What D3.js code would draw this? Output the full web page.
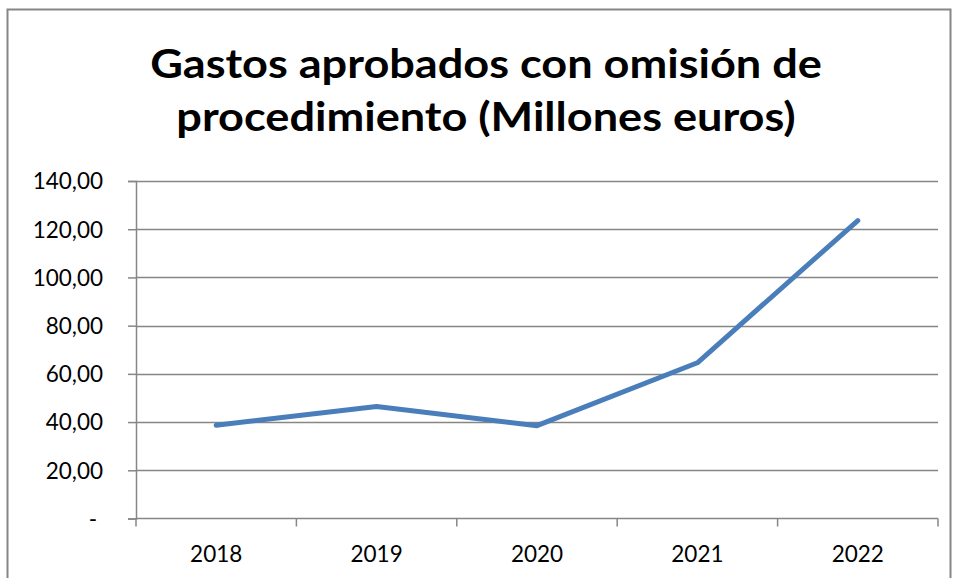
<!DOCTYPE html>
<html>
<head>
<meta charset="utf-8">
<script src="https://cdn.jsdelivr.net/npm/d3@7"></script>
<style>
  html, body { margin: 0; padding: 0; background: #fff; }
  svg { display: block; }
  text { font-family: Lato, "Open Sans", sans-serif; fill: #000; }
</style>
</head>
<body>
<div id="chart"></div>
<script>
// chart data
const years = ['2018', '2019', '2020', '2021', '2022'];
const gastos = [38.7, 46.5, 38.5, 64.6, 123.6];
const yTicks = [0, 20, 40, 60, 80, 100, 120, 140];
const titleLines = ['Gastos aprobados con omisión de', 'procedimiento (Millones euros)'];

(function() {
  const width = 956, height = 578;
  const plot = { left: 136, right: 938, top: 181, bottom: 518.5 };

  const svg = d3.select('#chart').append('svg')
    .attr('width', width)
    .attr('height', height);

  // outer frame of the chart object
  svg.append('rect')
    .attr('x', 7.5).attr('y', 9.5)
    .attr('width', 943).attr('height', 620)
    .attr('fill', 'none')
    .attr('stroke', '#868686')
    .attr('stroke-width', 2);

  // title, two centred lines; Lato is wider than the original face,
  // so squeeze it horizontally to the reference width
  const titleSize = 41;
  const title = svg.append('g');
  const tLines = title.selectAll('text')
    .data(titleLines)
    .join('text')
    .attr('x', 0)
    .attr('y', (d, i) => [78, 131][i])
    .attr('text-anchor', 'middle')
    .attr('font-weight', 'bold')
    .attr('font-size', titleSize)
    .text(d => d);
  const w0 = tLines.node().getComputedTextLength();
  title.attr('transform', `translate(486,0) scale(${672 / w0},1)`);

  const x = d3.scaleBand()
    .domain(years)
    .range([plot.left, plot.right]);

  const y = d3.scaleLinear()
    .domain([0, 140])
    .range([plot.bottom, plot.top]);

  // horizontal gridlines
  svg.append('g')
    .selectAll('line')
    .data(yTicks.slice(1))
    .join('line')
    .attr('x1', plot.left).attr('x2', plot.right)
    .attr('y1', d => Math.round(y(d)) + 0.5)
    .attr('y2', d => Math.round(y(d)) + 0.5)
    .attr('stroke', '#868686')
    .attr('stroke-width', 1.5);

  // y axis
  const fmt = d => d === 0 ? '-' : d3.format('.2f')(d).replace('.', ',');
  const yAxis = svg.append('g')
    .attr('transform', `translate(${plot.left},0)`)
    .call(d3.axisLeft(y).tickValues(yTicks).tickFormat(fmt).tickSize(8).tickPadding(25));
  yAxis.select('.domain').attr('stroke', '#868686').attr('stroke-width', 1.5);
  yAxis.selectAll('.tick line').attr('stroke', '#868686').attr('stroke-width', 1.5);
  yAxis.selectAll('.tick text')
    .attr('font-size', 22.5)
    .attr('font-family', 'Lato, sans-serif')
    .attr('fill', '#000')
    .attr('dy', '0.35em');
  yAxis.selectAll('.tick').filter(d => d === 0).select('text').attr('dx', -6);

  // x axis: ticks between categories
  const xAxis = svg.append('g')
    .attr('transform', `translate(0,${plot.bottom})`);
  xAxis.append('line')
    .attr('x1', plot.left).attr('x2', plot.right)
    .attr('y1', 0).attr('y2', 0)
    .attr('stroke', '#868686').attr('stroke-width', 1.5);
  const edges = years.map(d => x(d)).concat([x(years[years.length - 1]) + x.bandwidth()]);
  xAxis.selectAll('line.tk')
    .data(edges)
    .join('line')
    .attr('class', 'tk')
    .attr('x1', d => d).attr('x2', d => d)
    .attr('y1', 0).attr('y2', 8)
    .attr('stroke', '#868686').attr('stroke-width', 1.5);
  xAxis.selectAll('text')
    .data(years)
    .join('text')
    .attr('x', d => x(d) + x.bandwidth() / 2)
    .attr('y', 43)
    .attr('text-anchor', 'middle')
    .attr('font-size', 22.5)
    .text(d => d);

  // series line
  const line = d3.line()
    .x((d, i) => x(years[i]) + x.bandwidth() / 2)
    .y(d => y(d));

  svg.append('path')
    .datum(gastos)
    .attr('d', line)
    .attr('fill', 'none')
    .attr('stroke', '#4a7ebb')
    .attr('stroke-width', 5)
    .attr('stroke-linecap', 'round')
    .attr('stroke-linejoin', 'round');
})();
</script>
</body>
</html>
